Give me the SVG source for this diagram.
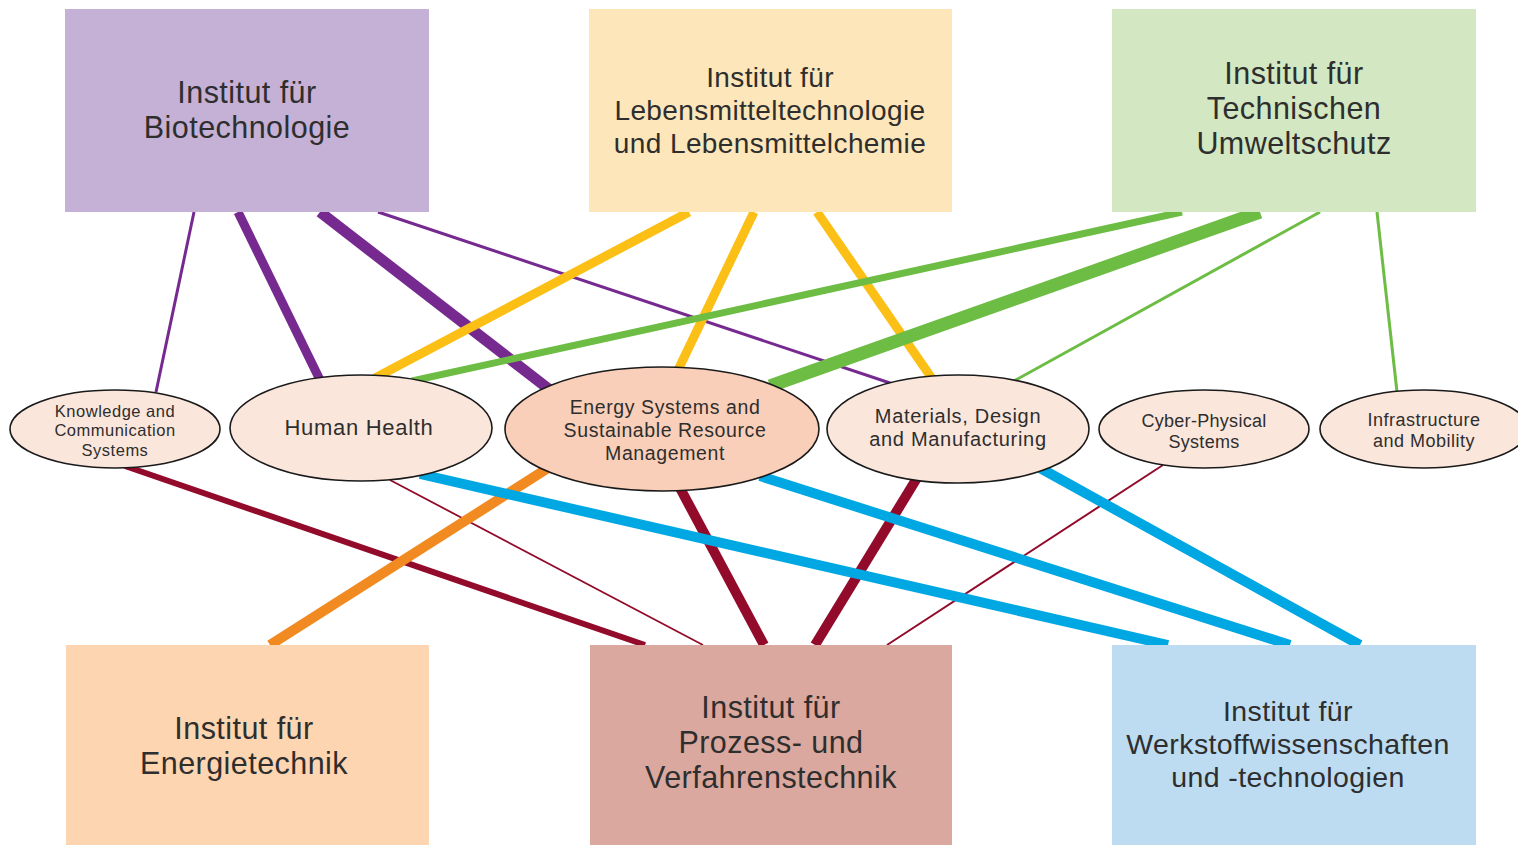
<svg xmlns="http://www.w3.org/2000/svg" width="1518" height="845" viewBox="0 0 1518 845">
<style>
.t{font-family:"Liberation Sans","Noto Sans",Arial,sans-serif;fill:#2e2e2e;text-anchor:middle}
.big{font-size:28px;letter-spacing:0.4px}
.xl{font-size:30.5px;letter-spacing:0.45px}
.el{fill:#fbe6dc;stroke:#1a1a1a;stroke-width:1.6}
.pu{stroke:#762a90;fill:none}
.ye{stroke:#fcbf15;fill:none}
.gr{stroke:#6dbd45;fill:none}
.rd{stroke:#920b2b;fill:none}
.or{stroke:#f28a22;fill:none}
.bl{stroke:#00a8e3;fill:none}
</style>
<rect width="1518" height="845" fill="#ffffff"/>
<g id="connectors">
<line class="pu" x1="194" y1="212" x2="156" y2="392" stroke-width="3"/>
<line class="pu" x1="238" y1="212" x2="320" y2="380" stroke-width="9"/>
<line class="pu" x1="320" y1="212" x2="550" y2="390" stroke-width="11"/>
<line class="pu" x1="378" y1="212" x2="893" y2="384" stroke-width="3"/>
<line class="ye" x1="689" y1="212" x2="375" y2="378" stroke-width="9"/>
<line class="ye" x1="754" y1="212" x2="678" y2="370" stroke-width="9"/>
<line class="ye" x1="817" y1="212" x2="933" y2="380" stroke-width="9"/>
<line class="gr" x1="1182" y1="212" x2="412" y2="381" stroke-width="7"/>
<line class="gr" x1="1260" y1="212" x2="770" y2="386" stroke-width="13"/>
<line class="gr" x1="1320" y1="212" x2="1014" y2="381" stroke-width="3"/>
<line class="gr" x1="1377" y1="212" x2="1397" y2="392" stroke-width="3"/>
<line class="rd" x1="125" y1="466" x2="645" y2="645" stroke-width="6"/>
<line class="rd" x1="390" y1="480" x2="703" y2="645" stroke-width="1.8"/>
<line class="rd" x1="680" y1="488" x2="764" y2="645" stroke-width="10"/>
<line class="rd" x1="917" y1="478" x2="815" y2="645" stroke-width="10"/>
<line class="rd" x1="1163" y1="465" x2="887" y2="645" stroke-width="2"/>
<line class="or" x1="548" y1="468" x2="270" y2="645" stroke-width="10"/>
<line class="bl" x1="420" y1="474" x2="1168" y2="645" stroke-width="10"/>
<line class="bl" x1="760" y1="476" x2="1290" y2="645" stroke-width="10"/>
<line class="bl" x1="1040" y1="468" x2="1360" y2="645" stroke-width="10"/>
</g>
<g id="inst-biotech">
<rect x="65" y="9" width="364" height="203" fill="#c5b0d6"/>
<text class="t xl" x="247" y="103">Institut für</text>
<text class="t xl" x="247" y="138">Biotechnologie</text>
</g>
<g id="inst-lebensmittel">
<rect x="589" y="9" width="363" height="203" fill="#fde6ba"/>
<text class="t big" x="770" y="87">Institut für</text>
<text class="t big" x="770" y="120">Lebensmitteltechnologie</text>
<text class="t big" x="770" y="153">und Lebensmittelchemie</text>
</g>
<g id="inst-umwelt">
<rect x="1112" y="9" width="364" height="203" fill="#d3e7c2"/>
<text class="t xl" x="1294" y="84">Institut für</text>
<text class="t xl" x="1294" y="119">Technischen</text>
<text class="t xl" x="1294" y="154">Umweltschutz</text>
</g>
<g id="inst-energie">
<rect x="66" y="645" width="363" height="200" fill="#fdd5b1"/>
<text class="t xl" x="244" y="739">Institut für</text>
<text class="t xl" x="244" y="774">Energietechnik</text>
</g>
<g id="inst-prozess">
<rect x="590" y="645" width="362" height="200" fill="#dba89f"/>
<text class="t xl" x="771" y="718">Institut für</text>
<text class="t xl" x="771" y="753">Prozess- und</text>
<text class="t xl" x="771" y="788">Verfahrenstechnik</text>
</g>
<g id="inst-werkstoff">
<rect x="1112" y="645" width="364" height="200" fill="#bddcf1"/>
<text class="t big" x="1288" y="721" style="font-size:28.5px">Institut für</text>
<text class="t big" x="1288" y="754" style="font-size:28.5px">Werkstoffwissenschaften</text>
<text class="t big" x="1288" y="787" style="font-size:28.5px">und -technologien</text>
</g>
<g id="area-knowledge">
<ellipse class="el" cx="115" cy="429" rx="105" ry="39"/>
<text class="t" font-size="16.5" letter-spacing="0.5" x="115" y="417">Knowledge and</text>
<text class="t" font-size="16.5" letter-spacing="0.5" x="115" y="436">Communication</text>
<text class="t" font-size="16.5" letter-spacing="0.5" x="115" y="456">Systems</text>
</g>
<g id="area-health">
<ellipse class="el" cx="361" cy="428" rx="131" ry="53"/>
<text class="t" font-size="22" letter-spacing="0.7" x="359" y="435">Human Health</text>
</g>
<g id="area-energy">
<ellipse class="el" cx="662" cy="429" rx="157" ry="62" style="fill:#f9cfb9"/>
<text class="t" font-size="19.5" letter-spacing="0.6" x="665" y="414">Energy Systems and</text>
<text class="t" font-size="19.5" letter-spacing="0.6" x="665" y="437">Sustainable Resource</text>
<text class="t" font-size="19.5" letter-spacing="0.6" x="665" y="460">Management</text>
</g>
<g id="area-materials">
<ellipse class="el" cx="958" cy="429" rx="131" ry="54"/>
<text class="t" font-size="20" letter-spacing="0.7" x="958" y="423">Materials, Design</text>
<text class="t" font-size="20" letter-spacing="0.7" x="958" y="446">and Manufacturing</text>
</g>
<g id="area-cyber">
<ellipse class="el" cx="1204" cy="429" rx="105" ry="39"/>
<text class="t" font-size="18" letter-spacing="0.3" x="1204" y="427">Cyber-Physical</text>
<text class="t" font-size="18" letter-spacing="0.3" x="1204" y="448">Systems</text>
</g>
<g id="area-infra">
<ellipse class="el" cx="1424" cy="429" rx="104" ry="39"/>
<text class="t" font-size="18" letter-spacing="0.5" x="1424" y="426">Infrastructure</text>
<text class="t" font-size="18" letter-spacing="0.5" x="1424" y="447">and Mobility</text>
</g>
</svg>
